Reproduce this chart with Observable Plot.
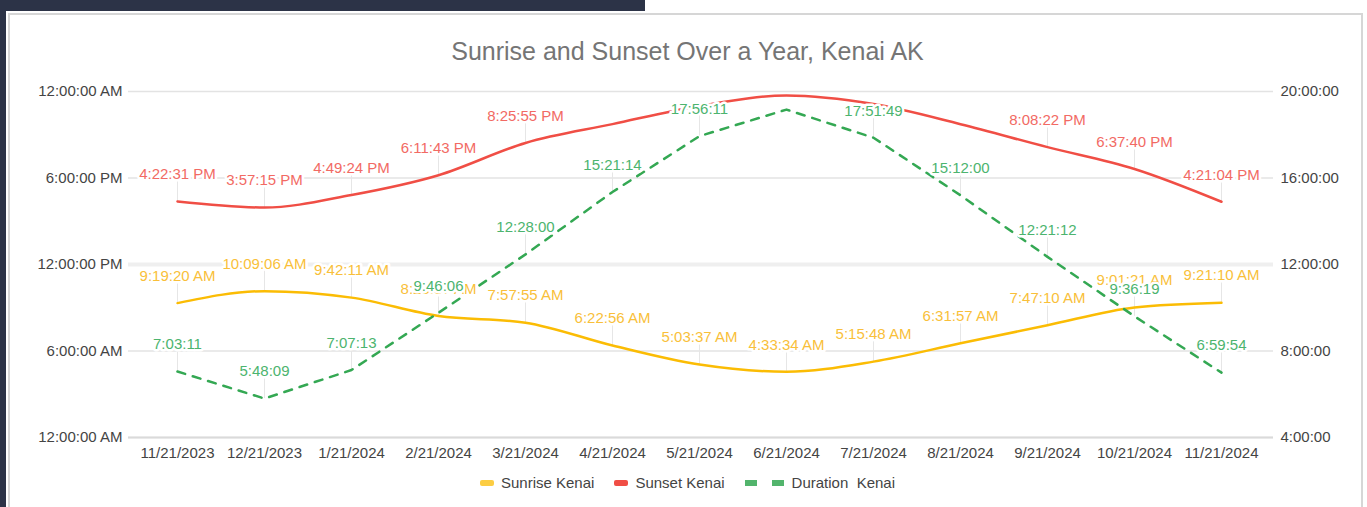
<!DOCTYPE html>
<html>
<head>
<meta charset="utf-8">
<script src="https://cdn.jsdelivr.net/npm/d3@7"></script>
<script src="https://cdn.jsdelivr.net/npm/@observablehq/plot@0.6"></script>
<style>
  html, body { margin:0; padding:0; background:#fff; width:1367px; height:507px; overflow:hidden;
    font-family:"Liberation Sans", Arial, sans-serif; }
  #topbar { position:absolute; left:0; top:0; width:645px; height:11px; background:#2c3347; }
  #leftbar { position:absolute; left:0; top:0; width:6px; height:507px; background:#2c3347; }
  #card { position:absolute; left:8px; top:13px; width:1351px; height:520px; border:2px solid #d6d6d6; background:#fff; }
  #title { position:absolute; left:0; top:37px; width:1375px; text-align:center; font-size:25px; color:#757575; white-space:nowrap; }
  #chart { position:absolute; left:0; top:70px; }
  #legend { position:absolute; left:0; top:474px; width:1375px; display:flex; justify-content:center; align-items:center;
    font-size:15px; color:#444; }
  .item { display:flex; align-items:center; margin:0 10px; }
  .item svg { margin-right:7px; }
</style>
</head>
<body>
<div id="topbar"></div>
<div id="leftbar"></div>
<div id="card"></div>
<div id="title">Sunrise and Sunset Over a Year, Kenai AK</div>
<div id="chart"></div>
<div id="legend"></div>
<script>
// ---- data ----
const dates = ["11/21/2023","12/21/2023","1/21/2024","2/21/2024","3/21/2024","4/21/2024","5/21/2024",
               "6/21/2024","7/21/2024","8/21/2024","9/21/2024","10/21/2024","11/21/2024"];
const sunrise = ["9:19:20 AM","10:09:06 AM","9:42:11 AM","8:25:37 AM","7:57:55 AM","6:22:56 AM","5:03:37 AM",
                 "4:33:34 AM","5:15:48 AM","6:31:57 AM","7:47:10 AM","9:01:21 AM","9:21:10 AM"];
const sunset = ["4:22:31 PM","3:57:15 PM","4:49:24 PM","6:11:43 PM","8:25:55 PM","9:44:10 PM","10:59:48 PM",
                "11:43:20 PM","11:07:37 PM","9:43:57 PM","8:08:22 PM","6:37:40 PM","4:21:04 PM"];
const duration = ["7:03:11","5:48:09","7:07:13","9:46:06","12:28:00","15:21:14","17:56:11",
                  "19:09:46","17:51:49","15:12:00","12:21:12","9:36:19","6:59:54"];
const sunsetLabelShown   = [true,true,true,true,true,false,false,false,false,false,true,true,true];
const durationLabelShown = [true,true,true,true,true,true,true,false,true,true,true,true,true];
const leftTicks = [0, 6, 12, 18, 24];
const leftTickLabels = ["12:00:00 AM","6:00:00 AM","12:00:00 PM","6:00:00 PM","12:00:00 AM"];
const rightTickLabels = ["4:00:00","8:00:00","12:00:00","16:00:00","20:00:00"];
const seriesNames = ["Sunrise Kenai","Sunset Kenai","Duration  Kenai"];
const colors = { rise:"#fbbc04", set:"#f04e45", dur:"#34a853" };
const labelColors = { rise:"#f9bf3a", set:"#f26a64", dur:"#4cb46e" };

// ---- helpers ----
function toHours(s) {
  const m = s.match(/(\d+):(\d+):(\d+)\s*(AM|PM)?/);
  let h = +m[1]; const mi = +m[2], se = +m[3];
  if (m[4] === "AM" && h === 12) h = 0;
  if (m[4] === "PM" && h !== 12) h += 12;
  return h + mi / 60 + se / 3600;
}
// duration axis (4h..20h) shares the left axis range (0..24)
const durToLeft = h => (h - 4) * 1.5;
const leader = 1.45;

const rows = dates.map((d, i) => ({
  date: d,
  rise: toHours(sunrise[i]),
  set: toHours(sunset[i]),
  dur: durToLeft(toHours(duration[i])),
  riseL: sunrise[i], setL: sunset[i], durL: duration[i],
  showSet: sunsetLabelShown[i], showDur: durationLabelShown[i]
}));
const setRows = rows.filter(r => r.showSet);
const durRows = rows.filter(r => r.showDur);

const labelStyle = { dy: -27, fontSize: 15, stroke: "white", strokeWidth: 5, paintOrder: "stroke", textAnchor: "middle" };

const chart = Plot.plot({
  width: 1367, height: 400,
  marginLeft: 128, marginRight: 94, marginTop: 21, marginBottom: 33,
  style: { fontFamily: "'Liberation Sans', Arial, sans-serif", fontSize: "15px", color: "#444", background: "transparent" },
  x: { type: "point", domain: dates, padding: 0, insetLeft: 45, insetRight: 49 },
  y: { domain: [0, 24] },
  marks: [
    Plot.ruleY([0, 6, 18, 24], { stroke: "#e3e3e3", strokeWidth: 1.5 }),
    Plot.ruleY([12], { stroke: "#efefef", strokeWidth: 4 }),
    Plot.ruleY([0], { stroke: "#dadada", strokeWidth: 2 }),
    Plot.axisY(leftTicks, { anchor: "left", tickSize: 0, tickPadding: 6, label: null, fontSize: 15,
      tickFormat: v => leftTickLabels[leftTicks.indexOf(v)], fill: "#444" }),
    Plot.axisY(leftTicks, { anchor: "right", tickSize: 0, tickPadding: 7, label: null, fontSize: 15,
      tickFormat: v => rightTickLabels[leftTicks.indexOf(v)], fill: "#444" }),
    Plot.axisX({ tickSize: 0, tickPadding: 10, label: null, fill: "#444", fontSize: 15 }),
    // leader lines
    Plot.ruleX(rows, { x: "date", y1: "rise", y2: d => d.rise + leader, stroke: "#e6e6e6", strokeWidth: 1 }),
    Plot.ruleX(setRows, { x: "date", y1: "set", y2: d => d.set + leader, stroke: "#e6e6e6", strokeWidth: 1 }),
    Plot.ruleX(durRows, { x: "date", y1: "dur", y2: d => d.dur + leader, stroke: "#e6e6e6", strokeWidth: 1 }),
    // lines
    Plot.line(rows, { x: "date", y: "rise", stroke: colors.rise, strokeWidth: 2.5, curve: "monotone-x" }),
    Plot.line(rows, { x: "date", y: "set", stroke: colors.set, strokeWidth: 2.5, curve: "monotone-x" }),
    Plot.line(rows, { x: "date", y: "dur", stroke: colors.dur, strokeWidth: 2.5, strokeDasharray: "8,8" }),
    // labels
    Plot.text(rows, { x: "date", y: "rise", text: "riseL", fill: labelColors.rise, ...labelStyle }),
    Plot.text(setRows, { x: "date", y: "set", text: "setL", fill: labelColors.set, ...labelStyle }),
    Plot.text(durRows, { x: "date", y: "dur", text: "durL", fill: labelColors.dur, ...labelStyle })
  ]
});
document.getElementById("chart").appendChild(chart);

// ---- legend ----
const legend = document.getElementById("legend");
const swatches = [
  `<svg width="14" height="6"><rect x="0" y="0" width="14" height="6" rx="2" fill="${colors.rise}" opacity="0.75"/></svg>`,
  `<svg width="14" height="6"><rect x="0" y="0" width="14" height="6" rx="2" fill="${colors.set}"/></svg>`,
  `<svg width="40" height="6"><line x1="0" x2="40" y1="3" y2="3" stroke="${colors.dur}" stroke-width="6" stroke-dasharray="12,15" opacity="0.85"/></svg>`
];
seriesNames.forEach((n, i) => {
  const el = document.createElement("div");
  el.className = "item";
  el.innerHTML = swatches[i] + `<span style="white-space:pre">${n}</span>`;
  legend.appendChild(el);
});
</script>
</body>
</html>
